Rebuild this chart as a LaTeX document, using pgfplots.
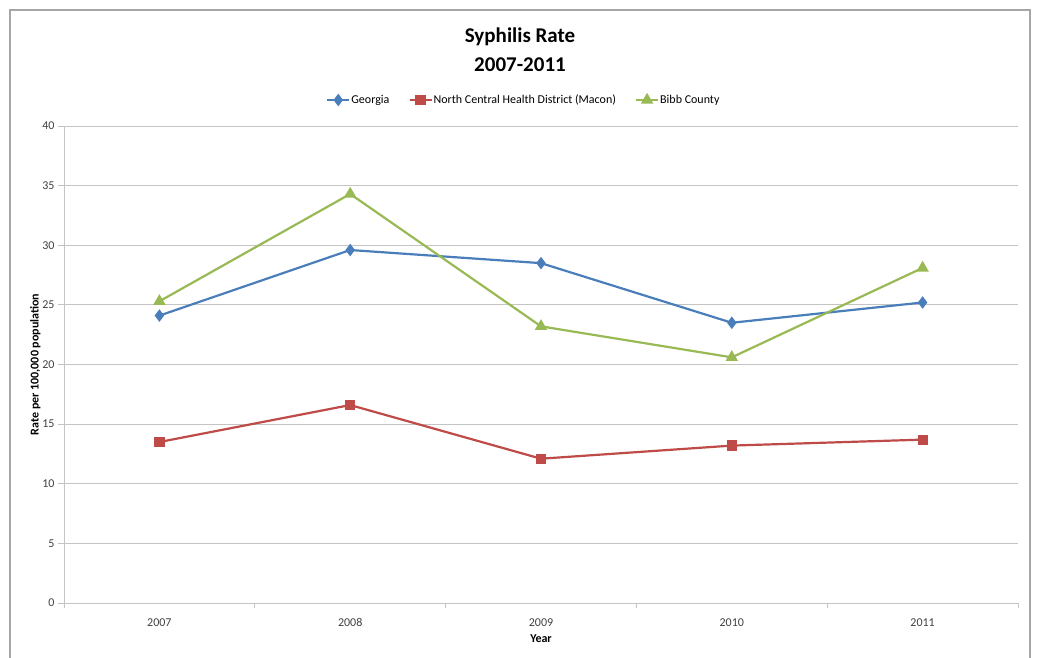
\documentclass[border=0pt]{standalone}
\usepackage{fontspec}
\setmainfont{Carlito}
\usepackage{pgfplots}
\pgfplotsset{compat=1.18}
\definecolor{gablue}{HTML}{4A7EBB}
\definecolor{ncred}{HTML}{BE4B48}
\definecolor{bibbgreen}{HTML}{98B954}
\definecolor{gridgray}{HTML}{C4C4C4}
\definecolor{framegray}{HTML}{A6A6A6}
\begin{document}
\begin{tikzpicture}[x=1pt,y=1pt]
\useasboundingbox (0,0) rectangle (1038,657);
\draw[color=framegray, line width=1.5pt] (10,-20) -- (10,647) -- (1030,647) -- (1030,-20);
\node[font=\bfseries\fontsize{21}{25}\selectfont] at (520,620) {Syphilis Rate};
\node[font=\bfseries\fontsize{21}{25}\selectfont] at (520,592) {2007-2011};
\begin{axis}[
  at={(64pt,54pt)}, anchor=south west,
  scale only axis, width=954pt, height=477pt,
  xmin=2006.5, xmax=2011.5, ymin=0, ymax=40,
  xtick={2007,2008,2009,2010,2011},
  xticklabels={2007,2008,2009,2010,2011},
  minor xtick={2006.5,2007.5,2008.5,2009.5,2010.5,2011.5},
  ytick={0,5,...,40},
  ymajorgrids,
  major grid style={gridgray, line width=0.9pt},
  axis x line*=bottom, axis y line*=left,
  axis line style={gridgray, line width=1pt},
  every outer x axis line/.append style={-},
  every outer y axis line/.append style={-},
  tick align=outside,
  major x tick style={draw=none},
  minor x tick style={gridgray, line width=0.9pt},
  minor tick length=5pt,
  major y tick style={gridgray, line width=0.9pt},
  major tick length=6pt,
  tick label style={font=\fontsize{12}{14}\selectfont, text=black!75},
  /pgf/number format/assume math mode=true,
  xticklabel style={yshift=-6pt},
  xlabel={Year},
  ylabel={Rate per 100,000 population},
  label style={font=\bfseries\fontsize{12}{14}\selectfont},
  xlabel style={at={(axis description cs:0.5,-0.0755)}, anchor=center},
  ylabel style={at={(axis description cs:-0.03,0.5)}, anchor=center, rotate=0},
  legend style={at={(axis description cs:0.482,1.0545)}, anchor=center, draw=none,
    font=\fontsize{12}{14}\selectfont, /tikz/every even column/.append style={column sep=17pt},
    /tikz/every odd column/.append style={column sep=-1pt}},
  legend columns=3,
  legend image code/.code={\draw[#1] (0pt,0pt) -- (11pt,0pt) plot coordinates {(11pt,0pt)} -- (22pt,0pt);},
  every axis plot/.append style={line width=2.2pt},
]
\addplot[color=gablue, mark=diamond*, mark size=4.5pt, mark options={solid}] coordinates {
  (2007,24.1) (2008,29.6) (2009,28.5) (2010,23.5) (2011,25.2)};
\addlegendentry{Georgia}
\addplot[color=ncred, mark=square*, mark size=4pt] coordinates {
  (2007,13.5) (2008,16.6) (2009,12.1) (2010,13.2) (2011,13.7)};
\addlegendentry{North Central Health District (Macon)}
\addplot[color=bibbgreen, mark=triangle*, mark size=5pt] coordinates {
  (2007,25.3) (2008,34.3) (2009,23.2) (2010,20.6) (2011,28.1)};
\addlegendentry{Bibb County}
\end{axis}
\end{tikzpicture}
\end{document}
